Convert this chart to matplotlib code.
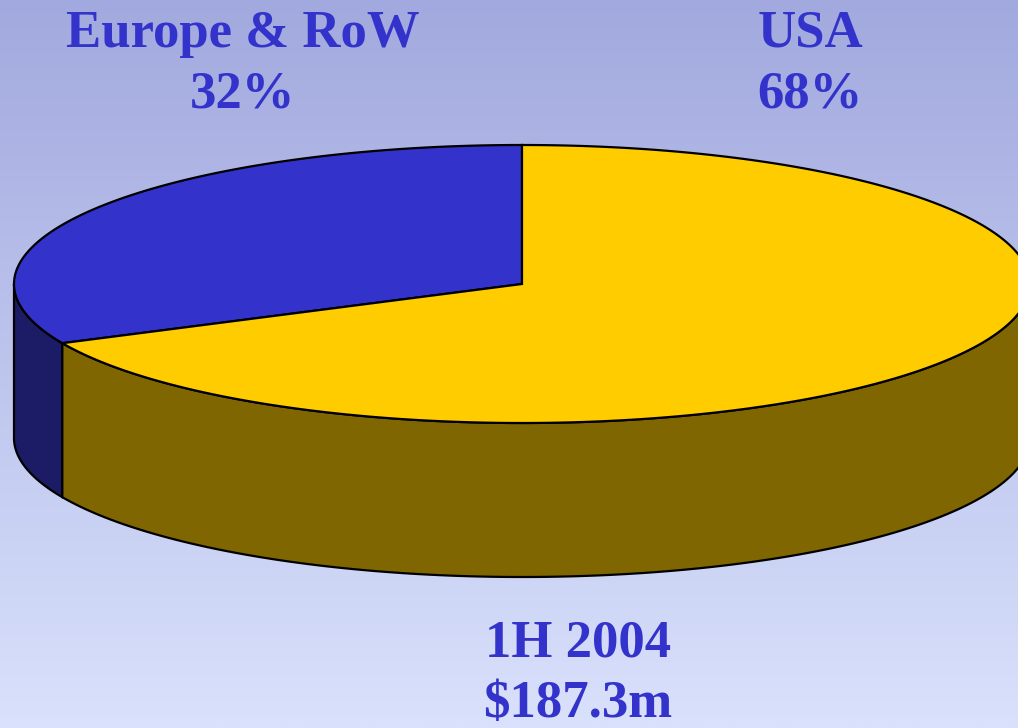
import numpy as np
import matplotlib.pyplot as plt
from matplotlib.patches import Polygon
from matplotlib.colors import LinearSegmentedColormap

# ------- DATA ----------
regions = ["Europe & RoW", "USA"]
shares = [32, 68]
top_colors = ["#3333cc", "#ffcc00"]
side_colors = ["#1c1c66", "#806600"]
caption = ["1H 2004", "$187.3m"]

# ------- GEOMETRY (pixels) ----------
W, H = 1018, 728
cx, cy = 522, 284
rx, ry = 508, 139
depth = 154
start = 90.0  # first slice starts at 12 o'clock, counter-clockwise

def pt(theta_deg, dy=0):
    t = np.radians(theta_deg)
    return cx + rx * np.cos(t), cy - ry * np.sin(t) + dy

fig = plt.figure(figsize=(W / 100, H / 100), dpi=100)
ax = fig.add_axes([0, 0, 1, 1])
ax.set_xlim(0, W)
ax.set_ylim(H, 0)
ax.axis("off")

# background gradient
bg = LinearSegmentedColormap.from_list("bg", ["#a2a9de", "#d9e1fc"])
grad = np.linspace(0, 1, 256).reshape(-1, 1)
ax.imshow(grad, cmap=bg, extent=[0, W, H, 0], aspect="auto", zorder=0)

# wedge angle ranges
total = sum(shares)
bounds = []
a = start
for s in shares:
    span = 360.0 * s / total
    bounds.append((a, a + span))
    a += span

# sides (only the front half 180..360 is visible)
for (a0, a1), col in zip(bounds, side_colors):
    for off in (0, 360):
        lo = max(a0, 180 + off)
        hi = min(a1, 360 + off)
        if hi <= lo:
            continue
        th = np.linspace(lo, hi, 200)
        upper = [pt(t) for t in th]
        lower = [pt(t, depth) for t in th[::-1]]
        ax.add_patch(Polygon(upper + lower, closed=True, facecolor=col,
                             edgecolor="black", linewidth=1.6, zorder=2))

# tops
for (a0, a1), col in zip(bounds, top_colors):
    th = np.linspace(a0, a1, 400)
    verts = [(cx, cy)] + [pt(t) for t in th]
    ax.add_patch(Polygon(verts, closed=True, facecolor=col,
                         edgecolor="black", linewidth=1.6, zorder=3))

# labels
txt = dict(color="#3333cc", fontsize=38, fontweight="bold",
           family="Liberation Serif", ha="center", va="center",
           linespacing=1.35, zorder=5)
ax.text(243, 64, f"{regions[0]}\n{shares[0]}%", **txt)
ax.text(810, 64, f"{regions[1]}\n{shares[1]}%", **txt)
ax.text(578, 674, "\n".join(caption), **txt)

fig.savefig("out.png", dpi=100)
